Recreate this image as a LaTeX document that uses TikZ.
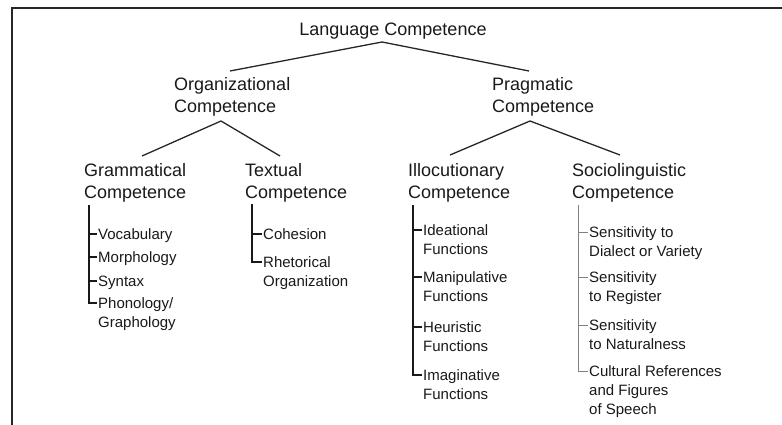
\documentclass[tikz,border=0pt]{standalone}
\usepackage{fontspec}
\setmainfont{Liberation Sans}
\newcommand{\mlines}[1]{\begin{tabular}[t]{@{}l@{}}#1\end{tabular}}
\begin{document}
\begin{tikzpicture}[x=1pt,y=-1pt,
  head/.style={font=\fontsize{18}{22}\selectfont, inner sep=0pt, anchor=base west, text=black!90},
  item/.style={font=\fontsize{15}{19}\selectfont, inner ysep=0pt, inner xsep=1pt, anchor=base west, text=black!90},
  tree/.style={line width=1.3pt, black!85},
  brk/.style={line width=1.4pt, black!90},
  thinbrk/.style={line width=0.6pt, black!50},
  frame/.style={line width=2pt, black!85}]
\useasboundingbox (0,0) rectangle (782,425);
% frame
\coordinate (ftr) at (782,8);
\coordinate (ftl) at (12,8);
\coordinate (fbl) at (12,425);
\draw[frame] (ftr) -- (ftl) -- (fbl);

% headings
\node[head, anchor=base] (lang) at (393,36) {Language Competence};
\node[head] (org) at (174,91) {\mlines{Organizational\\Competence}};
\node[head] (prag) at (492,91) {\mlines{Pragmatic\\Competence}};
\node[head] (gram) at (84,176) {\mlines{Grammatical\\Competence}};
\node[head] (txt) at (245,176) {\mlines{Textual\\Competence}};
\node[head] (illo) at (408,176) {\mlines{Illocutionary\\Competence}};
\node[head] (socio) at (572,176) {\mlines{Sociolinguistic\\Competence}};

% tree joints
\coordinate (langj) at (382,42);
\coordinate (orgt) at (230,71);
\coordinate (pragt) at (529,71);
\coordinate (orgj) at (221,121);
\coordinate (gramt) at (142,156);
\coordinate (txtt) at (280,156);
\coordinate (pragj) at (530,121);
\coordinate (illot) at (450,155);
\coordinate (sociot) at (620,155);
\draw[tree] (orgt) -- (langj) -- (pragt);
\draw[tree] (gramt) -- (orgj) -- (txtt);
\draw[tree] (illot) -- (pragj) -- (sociot);

% Grammatical items
\node[item] (voc) at (97,239) {Vocabulary};
\node[item] (mor) at (97,262) {Morphology};
\node[item] (syn) at (97,286) {Syntax};
\node[item] (pho) at (97,308) {\mlines{Phonology/\\Graphology}};
\coordinate (gramb) at (89,205);
\draw[brk] (gramb) |- ([yshift=5pt]pho.base west);
\foreach \n in {voc,mor,syn}{\draw[brk] ([yshift=5pt]\n.base west) -- ++(-9,0);}

% Textual items
\node[item] (coh) at (262,239) {Cohesion};
\node[item] (rhe) at (262,267) {\mlines{Rhetorical\\Organization}};
\coordinate (txtb) at (252,204);
\draw[brk] (txtb) |- ([yshift=5pt]rhe.base west);
\draw[brk] ([yshift=5pt]coh.base west) -- ++(-10,0);

% Illocutionary items
\node[item] (ide) at (422,235) {\mlines{Ideational\\Functions}};
\node[item] (man) at (422,282) {\mlines{Manipulative\\Functions}};
\node[item] (heu) at (422,332) {\mlines{Heuristic\\Functions}};
\node[item] (ima) at (422,380) {\mlines{Imaginative\\Functions}};
\coordinate (illob) at (413,205);
\draw[brk] (illob) |- ([yshift=5pt]ima.base west);
\foreach \n in {ide,man,heu}{\draw[brk] ([yshift=5pt]\n.base west) -- ++(-9,0);}

% Sociolinguistic items
\node[item] (dia) at (588,237) {\mlines{Sensitivity to\\Dialect or Variety}};
\node[item] (reg) at (588,282) {\mlines{Sensitivity\\to Register}};
\node[item] (nat) at (588,330) {\mlines{Sensitivity\\to Naturalness}};
\node[item] (cul) at (588,376) {\mlines{Cultural References\\and Figures\\of Speech}};
\coordinate (sociob) at (578,205);
\draw[thinbrk] (sociob) |- ([yshift=5pt]cul.base west);
\foreach \n in {dia,reg,nat}{\draw[thinbrk] ([yshift=5pt]\n.base west) -- ++(-10,0);}
\end{tikzpicture}
\end{document}
